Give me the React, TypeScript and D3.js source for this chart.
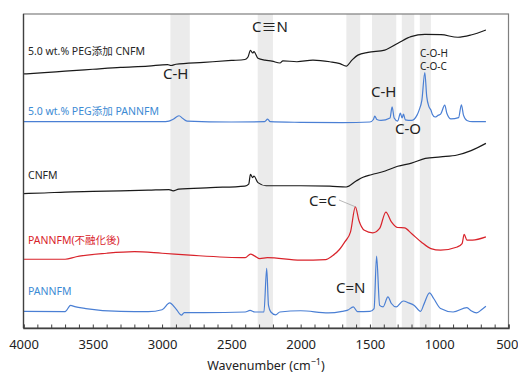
import React, { useEffect, useRef } from 'react';
import * as d3 from 'd3';

type Pt = [number, number];

// wavenumber (cm-1), offset absorbance (a.u.)
const pegCnfm: Pt[] = [
    [4000, 80.9], [3850, 81.3], [3700, 81.8], [3500, 82.4], [3300, 83.0], [3100, 83.4], [2960, 83.9], [2936, 83.6],
    [2900, 84.0], [2700, 84.6], [2500, 85.2], [2402, 85.5], [2380, 86.3], [2362, 88.4], [2346, 87.6], [2337, 88.0],
    [2308, 85.9], [2257, 85.3], [2207, 85.0], [2149, 84.4], [2128, 85.1], [2027, 84.8], [1911, 85.3], [1789, 84.8],
    [1716, 84.2], [1671, 83.4], [1630, 85.3], [1587, 86.9], [1514, 87.8], [1393, 88.5], [1298, 90.7], [1204, 92.8],
    [1103, 93.5], [987, 93.4], [865, 92.6], [771, 93.3], [663, 94.9]
];

const pegPannfm: Pt[] = [
    [4000, 65.7], [3500, 65.7], [3000, 65.7], [2950, 65.9], [2920, 66.5], [2878, 67.6], [2850, 66.7], [2820, 65.9],
    [2500, 65.6], [2260, 65.7], [2238, 66.5], [2220, 65.7], [2000, 65.5], [1700, 65.4], [1500, 65.6], [1475, 66.4],
    [1465, 67.5], [1450, 66.4], [1420, 66.1], [1355, 66.9], [1340, 70.4], [1325, 66.9], [1300, 65.9], [1280, 68.4],
    [1268, 66.9], [1258, 68.1], [1245, 66.3], [1200, 66.1], [1160, 67.8], [1145, 69.4], [1125, 72.6], [1104, 81.3],
    [1090, 73.7], [1075, 70.6], [1060, 69.4], [1050, 68.1], [1030, 67.2], [1005, 67.8], [990, 68.1], [960, 71.0],
    [945, 68.4], [915, 66.6], [860, 67.0], [840, 71.1], [825, 67.8], [800, 66.1], [760, 65.7], [663, 65.7]
];

const cnfm: Pt[] = [
    [4000, 42.8], [3850, 43.0], [3700, 43.3], [3500, 43.5], [3300, 43.7], [3100, 43.9], [2950, 44.1], [2920, 43.7],
    [2880, 44.2], [2650, 44.7], [2402, 45.2], [2375, 45.8], [2362, 48.9], [2346, 47.9], [2337, 48.4], [2308, 46.3],
    [2250, 45.3], [2000, 45.3], [1790, 45.2], [1671, 44.9], [1600, 46.8], [1550, 48.0], [1490, 48.8], [1390, 50.0],
    [1300, 51.5], [1200, 52.5], [1100, 54.0], [990, 54.5], [870, 55.1], [770, 56.5], [663, 58.8]
];

const pannfmStab: Pt[] = [
    [4000, 21.9], [3700, 21.9], [3620, 22.7], [3400, 23.8], [3200, 24.3], [3000, 23.8], [2800, 23.2], [2400, 22.4],
    [2362, 23.5], [2330, 22.9], [2295, 22.1], [2240, 22.4], [2000, 21.6], [1820, 21.8], [1770, 23.0], [1720, 25.0],
    [1680, 27.5], [1640, 30.6], [1605, 38.6], [1580, 34.3], [1540, 31.1], [1480, 30.3], [1430, 31.7], [1385, 36.9],
    [1345, 33.8], [1300, 32.0], [1250, 31.9], [1200, 30.1], [1130, 27.4], [1060, 25.3], [990, 24.8], [870, 25.8],
    [835, 26.9], [820, 29.8], [800, 28.0], [760, 28.0], [663, 29.0]
];

const pannfm: Pt[] = [
    [4000, 5.3], [3700, 5.2], [3660, 7.2], [3630, 6.8], [3550, 6.2], [3300, 5.3], [3100, 5.2], [3000, 5.8],
    [2945, 8.0], [2900, 6.1], [2860, 4.1], [2840, 4.9], [2700, 4.9], [2400, 5.1], [2365, 5.6], [2330, 5.1],
    [2265, 5.1], [2245, 19.0], [2232, 7.2], [2215, 5.1], [2180, 4.2], [2150, 5.1], [2000, 5.5], [1800, 4.8],
    [1700, 5.3], [1660, 5.7], [1620, 6.7], [1590, 5.2], [1500, 5.3], [1470, 6.2], [1452, 22.9], [1430, 7.2],
    [1405, 6.7], [1370, 9.9], [1345, 7.8], [1310, 6.7], [1260, 8.6], [1220, 8.0], [1180, 7.2], [1135, 5.3],
    [1110, 7.6], [1070, 11.2], [1040, 9.4], [990, 6.2], [900, 5.1], [800, 6.5], [770, 5.5], [730, 4.8],
    [690, 6.0], [663, 6.9]
];

const bands: [number, number][] = [[2940, 2800], [2310, 2200], [1670, 1570], [1485, 1310], [1270, 1180], [1140, 1060]];
const tickLabels = [4000, 3500, 3000, 2500, 2000, 1500, 1000, 500];

const seriesList = [
    { name: '5.0 wt.% PEG添加 CNFM', data: pegCnfm, color: '#1a1a1a', labelColor: '#262626', ly: 55.3 },
    { name: '5.0 wt.% PEG添加 PANNFM', data: pegPannfm, color: '#4a7fd4', labelColor: '#3d8bd4', ly: 115 },
    { name: 'CNFM', data: cnfm, color: '#1a1a1a', labelColor: '#262626', ly: 178.7 },
    { name: 'PANNFM(不融化後)', data: pannfmStab, color: '#d9232b', labelColor: '#d9232b', ly: 243.5 },
    { name: 'PANNFM', data: pannfm, color: '#4a7fd4', labelColor: '#3d8bd4', ly: 295 },
];

const peakLabels = [
    { text: 'C-H', x: 163, y: 79, size: 15 },
    { text: 'C≡N', x: 252, y: 31.7, size: 15 },
    { text: 'C-H', x: 371, y: 97, size: 15 },
    { text: 'C-O', x: 395, y: 134, size: 15 },
    { text: 'C=C', x: 309, y: 206, size: 15 },
    { text: 'C=N', x: 336, y: 292.5, size: 15 },
    { text: 'C-O-H', x: 420, y: 56.7, size: 10 },
    { text: 'C-O-C', x: 420, y: 70, size: 10 },
];

const font = '"Noto Sans", "Noto Sans CJK JP", sans-serif';

const App: React.FC = () => {
    const chartRef = useRef<SVGSVGElement | null>(null);

    useEffect(() => {
        if (!chartRef.current) return;
        const width = 518;
        const height = 374;
        const margin = { top: 14, right: 9.5, bottom: 46, left: 23.5 };

        const svg = d3.select(chartRef.current)
            .attr('width', width)
            .attr('height', height);
        svg.selectAll('*').remove();

        const x = d3.scaleLinear().domain([4000, 500]).range([margin.left, width - margin.right]);
        const y = d3.scaleLinear().domain([0, 100]).range([height - margin.bottom, margin.top]);

        svg.append('rect').attr('width', width).attr('height', height).attr('fill', 'white');

        // highlighted bands
        svg.selectAll('.band')
            .data(bands)
            .enter().append('rect')
            .attr('x', d => x(d[0]))
            .attr('y', margin.top)
            .attr('width', d => x(d[1]) - x(d[0]))
            .attr('height', height - margin.bottom - margin.top)
            .attr('fill', '#ebebeb');

        const line = d3.line<Pt>()
            .x(d => x(d[0]))
            .y(d => y(d[1]))
            .curve(d3.curveMonotoneX);

        seriesList.forEach(s => {
            svg.append('path')
                .attr('d', line(s.data))
                .attr('fill', 'none')
                .attr('stroke', s.color)
                .attr('stroke-width', 1.2)
                .attr('stroke-linejoin', 'round');

            svg.append('text')
                .attr('x', 28)
                .attr('y', s.ly)
                .style('font-family', font)
                .style('font-size', '10.5px')
                .style('fill', s.labelColor)
                .text(s.name);
        });

        // frame
        svg.append('rect')
            .attr('x', margin.left)
            .attr('y', margin.top)
            .attr('width', width - margin.right - margin.left)
            .attr('height', height - margin.bottom - margin.top)
            .attr('fill', 'none')
            .attr('stroke', '#7f7f7f')
            .attr('stroke-width', 1.2);
        svg.append('line')
            .attr('x1', margin.left).attr('x2', margin.left)
            .attr('y1', margin.top).attr('y2', height - margin.bottom)
            .attr('stroke', '#404040').attr('stroke-width', 1.3);

        const axis = d3.axisBottom(x)
            .tickValues(d3.range(4000, 499, -100))
            .tickSize(-3.5)
            .tickPadding(12)
            .tickFormat(d => (tickLabels.includes(+d) ? String(d) : ''));

        svg.append('g')
            .attr('transform', `translate(0, ${height - margin.bottom})`)
            .call(axis)
            .call(g => g.select('.domain').attr('stroke', '#404040').attr('stroke-width', 1.4))
            .call(g => g.selectAll('.tick line').attr('stroke', '#404040'))
            .call(g => g.selectAll('.tick text').style('font-family', font).style('font-size', '13px').style('fill', '#222'))
            .call(g => g.selectAll<SVGTextElement, number>('.tick text').filter(d => d === 500).attr('text-anchor', 'end').attr('dx', 9.5));

        const title = svg.append('text')
            .attr('x', 266)
            .attr('y', 370)
            .attr('text-anchor', 'middle')
            .style('font-family', font)
            .style('font-size', '12.5px')
            .style('fill', '#222');
        title.append('tspan').text('Wavenumber (cm');
        title.append('tspan').attr('dy', -5).style('font-size', '9px').text('−1');
        title.append('tspan').attr('dy', 5).text(')');

        // leader line for C=C
        svg.append('line')
            .attr('x1', 339).attr('y1', 200)
            .attr('x2', x(1605)).attr('y2', y(38.6))
            .attr('stroke', '#a6a6a6').attr('stroke-width', 0.8);

        svg.selectAll('.peak')
            .data(peakLabels)
            .enter().append('text')
            .attr('x', d => d.x)
            .attr('y', d => d.y)
            .style('font-family', font)
            .style('font-size', d => `${d.size}px`)
            .style('fill', '#222')
            .text(d => d.text);
    }, []);

    return (
        <svg ref={chartRef} style={{ position: 'absolute', left: 0, top: 0 }}></svg>
    );
};

export default App;
